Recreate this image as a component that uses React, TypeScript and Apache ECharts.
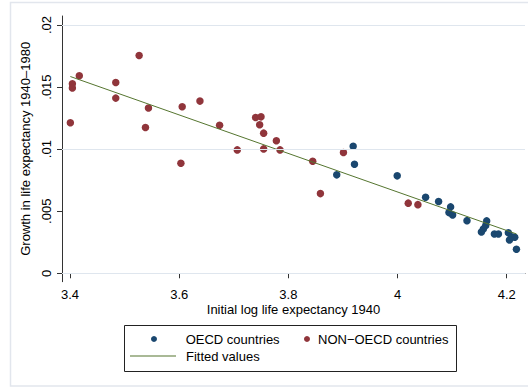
import React, { useEffect, useRef } from "react";
import * as echarts from "echarts";

const oecdPoints: number[][] = [
  [3.8886, 0.00793], [3.9187, 0.01024], [3.9211, 0.00879], [3.9994, 0.00785],
  [4.0514, 0.00613], [4.0752, 0.00578], [4.0972, 0.00535], [4.0942, 0.00489],
  [4.1009, 0.0047], [4.1272, 0.00424], [4.1633, 0.00422], [4.1615, 0.00384],
  [4.1572, 0.00357], [4.1536, 0.00333], [4.1774, 0.00317], [4.1848, 0.00317],
  [4.203, 0.00327], [4.2092, 0.00295], [4.2147, 0.0029], [4.205, 0.00269],
  [4.2178, 0.00193],
];

const nonOecdPoints: number[][] = [
  [3.4006, 0.01212], [3.4043, 0.01527], [3.4043, 0.01492], [3.417, 0.01591],
  [3.4838, 0.01537], [3.4838, 0.01411], [3.5266, 0.01755], [3.5382, 0.01174],
  [3.5437, 0.01331], [3.6031, 0.00887], [3.6055, 0.01341], [3.638, 0.01387],
  [3.674, 0.01193], [3.7064, 0.00994], [3.74, 0.01255], [3.7499, 0.0126],
  [3.7474, 0.01196], [3.7547, 0.01129], [3.7547, 0.01002], [3.778, 0.01067],
  [3.7847, 0.00994], [3.8446, 0.00903], [3.8587, 0.00642], [3.9009, 0.00973],
  [4.0196, 0.00565], [4.0373, 0.00553],
];

const fittedPoints: number[][] = [
  [3.4006, 0.01585],
  [4.2178, 0.00317],
];

const xTicks = [3.4, 3.6, 3.8, 4, 4.2];
const xTickLabels = ["3.4", "3.6", "3.8", "4", "4.2"];
const yTicks = [0, 0.005, 0.01, 0.015, 0.02];
const yTickLabels = ["0", ".005", ".01", ".015", ".02"];

const seriesNames = ["OECD countries", "NON\u2212OECD countries", "Fitted values"];
const xTitle = "Initial log life expectancy 1940";
const yTitle = "Growth in life expectancy 1940\u20131980";

const FONT = "'Liberation Sans', Arial, Helvetica, sans-serif";

function nearestLabel(v: number, ticks: number[], labels: string[]) {
  let best = 0;
  for (let i = 1; i < ticks.length; i++) {
    if (Math.abs(ticks[i] - v) < Math.abs(ticks[best] - v)) best = i;
  }
  return labels[best];
}

export default function App() {
  const ref = useRef<HTMLDivElement>(null);
  useEffect(() => {
    if (!ref.current) return;
    const chart = echarts.init(ref.current, undefined, { renderer: "svg" });
    const legendText = { color: "#000", fontSize: 13, fontFamily: FONT, lineHeight: 14 };
    chart.setOption({
      animation: false,
      backgroundColor: "#fff",
      textStyle: { fontFamily: FONT },
      grid: { left: 62, right: 3, top: 16, bottom: 105.3, containLabel: false },
      xAxis: {
        type: "value",
        min: 3.3853,
        max: 4.2335,
        name: xTitle,
        nameLocation: "middle",
        nameGap: 21,
        nameMoveOverlap: false,
        nameTextStyle: { color: "#000", fontSize: 13, fontFamily: FONT },
        axisLine: { show: true, lineStyle: { color: "#333", width: 1 } },
        axisTick: { show: true, length: 5, customValues: xTicks, lineStyle: { color: "#333" } },
        axisLabel: {
          customValues: xTicks,
          color: "#000",
          fontSize: 13,
          fontFamily: FONT,
          margin: 6,
          formatter: (v: number) => nearestLabel(v, xTicks, xTickLabels),
        },
        splitLine: { show: false },
      },
      yAxis: {
        type: "value",
        min: -0.000677,
        max: 0.020725,
        name: yTitle,
        nameLocation: "middle",
        nameGap: 30,
        nameMoveOverlap: false,
        nameTextStyle: { color: "#000", fontSize: 13, fontFamily: FONT },
        axisLine: { show: true, lineStyle: { color: "#333", width: 1 } },
        axisTick: { show: true, length: 5, customValues: yTicks, lineStyle: { color: "#333" } },
        axisLabel: {
          customValues: yTicks,
          rotate: 90,
          color: "#000",
          fontSize: 13,
          fontFamily: FONT,
          margin: 9,
          formatter: (v: number) => nearestLabel(v, yTicks, yTickLabels),
        },
        splitLine: { show: false },
      },
      legend: [
        {
          data: [{ name: seriesNames[0], icon: "circle" }],
          left: 151,
          top: 332,
          padding: 0,
          itemWidth: 6,
          itemHeight: 6,
          selectedMode: false,
          textStyle: { ...legendText, padding: [0, 0, 0, 23.7] },
        },
        {
          data: [{ name: seriesNames[1], icon: "circle" }],
          left: 304,
          top: 332,
          padding: 0,
          itemWidth: 6,
          itemHeight: 6,
          selectedMode: false,
          textStyle: { ...legendText, padding: [0, 0, 0, 3] },
        },
        {
          data: [{ name: seriesNames[2], icon: "rect" }],
          left: 130,
          top: 349,
          padding: 0,
          itemWidth: 46,
          itemHeight: 1,
          selectedMode: false,
          textStyle: { ...legendText, padding: [0, 0, 0, 5] },
        },
      ],
      graphic: [
        {
          type: "rect",
          silent: true,
          z: -10,
          shape: { x: 10.5, y: 2.5, width: 600, height: 383.5 },
          style: { fill: "none", stroke: "#e2e6ed", lineWidth: 1.5 },
        },
        {
          type: "rect",
          silent: true,
          shape: { x: 124.5, y: 325.5, width: 332, height: 46 },
          style: { fill: "none", stroke: "#222", lineWidth: 1 },
        },
      ],
      series: [
        {
          name: "grid",
          type: "line",
          data: [],
          z: 1,
          silent: true,
          markLine: {
            silent: true,
            symbol: ["none", "none"],
            label: { show: false },
            lineStyle: { type: "solid", color: "#dfe6ee", width: 1 },
            data: yTicks.map((v) => ({ yAxis: v })),
          },
        },
        {
          name: seriesNames[0],
          type: "scatter",
          data: oecdPoints,
          symbol: "circle",
          symbolSize: 7.5,
          z: 3,
          itemStyle: { color: "#1a476f", opacity: 1 },
        },
        {
          name: seriesNames[1],
          type: "scatter",
          data: nonOecdPoints,
          symbol: "circle",
          symbolSize: 7.5,
          z: 3,
          itemStyle: { color: "#90353b", opacity: 1 },
        },
        {
          name: seriesNames[2],
          type: "line",
          data: fittedPoints,
          symbol: "none",
          showSymbol: false,
          z: 4,
          lineStyle: { color: "#55752f", width: 1 },
          itemStyle: { color: "#55752f" },
        },
      ],
    });
    return () => chart.dispose();
  }, []);
  return (
    <div
      ref={ref}
      style={{ position: "absolute", left: 0, top: 0, width: 528, height: 387 }}
    />
  );
}
